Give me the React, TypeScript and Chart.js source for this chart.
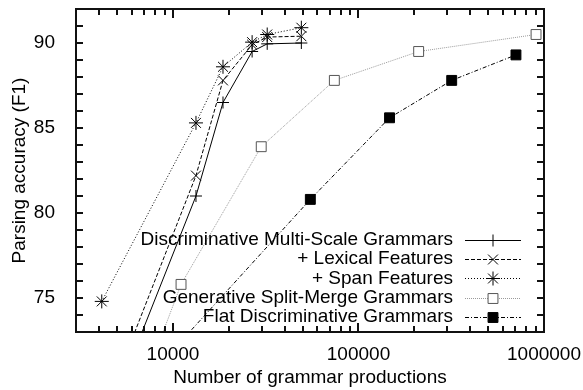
import React, { useEffect, useRef } from 'react';
import { Chart, registerables } from 'chart.js';

Chart.register(...registerables);

// ---- data ----
const seriesNames = [
  'Discriminative Multi-Scale Grammars',
  '+ Lexical Features',
  '+ Span Features',
  'Generative Split-Merge Grammars',
  'Flat Discriminative Grammars',
];
const multiScaleX = [5300, 13300, 18600, 26700, 32200, 49200];
const multiScaleY = [70, 81.0, 86.5, 89.5, 89.95, 90.0];
const lexicalX = [4860, 13300, 18600, 26700, 32200, 49200];
const lexicalY = [70, 82.2, 87.8, 89.9, 90.35, 90.4];
const spanX = [4130, 13300, 18600, 26700, 32200, 49200];
const spanY = [74.8, 85.3, 88.6, 90.05, 90.5, 90.9];
const generativeX = [6960, 11050, 29900, 74100, 211000, 906000];
const generativeY = [70, 75.8, 83.9, 87.8, 89.5, 90.5];
const flatX = [6900, 55000, 147000, 318000, 706000];
const flatY = [70, 80.8, 85.6, 87.8, 89.3];
const xTickLabels = [10000, 100000, 1000000];
const yTickLabels = [75, 80, 85, 90];

const FONT = "'Liberation Sans', Arial, Helvetica, sans-serif";
const FONT_SIZE = 19;

const styles = [
  { color: '#000000', dash: [] as number[], point: 'cross', radius: 6, fill: 'transparent', pcolor: '#000000' },
  { color: '#000000', dash: [4, 2], point: 'crossRot', radius: 7, fill: 'transparent', pcolor: '#000000' },
  { color: '#000000', dash: [1, 2], point: 'star', radius: 7, fill: 'transparent', pcolor: '#000000' },
  { color: '#9a9a9a', dash: [1, 1], point: 'rect', radius: 7, fill: '#ffffff', pcolor: '#555555' },
  { color: '#000000', dash: [4, 2, 1, 2], point: 'rect', radius: 7, fill: '#000000', pcolor: '#000000' },
];

function zip(xs: number[], ys: number[]) {
  return xs.map((x, i) => ({ x, y: ys[i] }));
}

function drawMarker(ctx: CanvasRenderingContext2D, kind: string, x: number, y: number, r: number, fill: string, stroke: string) {
  ctx.save();
  ctx.setLineDash([]);
  ctx.lineWidth = 1;
  ctx.strokeStyle = stroke;
  ctx.fillStyle = fill;
  const d = r * Math.SQRT1_2;
  ctx.beginPath();
  if (kind === 'cross' || kind === 'star') {
    ctx.moveTo(x - r, y); ctx.lineTo(x + r, y);
    ctx.moveTo(x, y - r); ctx.lineTo(x, y + r);
  }
  if (kind === 'crossRot' || kind === 'star') {
    ctx.moveTo(x - d, y - d); ctx.lineTo(x + d, y + d);
    ctx.moveTo(x - d, y + d); ctx.lineTo(x + d, y - d);
  }
  if (kind === 'rect') {
    ctx.rect(x - d, y - d, 2 * d, 2 * d);
    ctx.fill();
  }
  ctx.stroke();
  ctx.restore();
}

function isIntSignificand(v: number) {
  const e = Math.floor(Math.log10(v) + 1e-9);
  const s = v / Math.pow(10, e);
  return Math.abs(s - Math.round(s)) < 1e-6;
}

const framePlugin = {
  id: 'gnuFrame',
  afterDraw(chart: any) {
    const ctx = chart.ctx;
    const a = chart.chartArea;
    const sx = chart.scales.x;
    const sy = chart.scales.y;
    ctx.save();
    ctx.fillStyle = '#111111';
    const W = 2;
    // frame
    ctx.fillRect(a.left - 1, a.top - 1, a.right - a.left + W, W);
    ctx.fillRect(a.left - 1, a.bottom - 1, a.right - a.left + W, W);
    ctx.fillRect(a.left - 1, a.top - 1, W, a.bottom - a.top + W);
    ctx.fillRect(a.right - 1, a.top - 1, W, a.bottom - a.top + W);
    // inward tick marks
    for (let i = 0; i < sx.ticks.length; i++) {
      const v = sx.ticks[i].value;
      if (!isIntSignificand(v)) continue;
      const px = Math.round(sx.getPixelForValue(v));
      if (px <= a.left + 2 || px >= a.right - 2) continue;
      const lg = Math.log10(v);
      const len = Math.abs(lg - Math.round(lg)) < 1e-9 ? 9 : 6;
      ctx.fillRect(px - 1, a.bottom - len, W, len);
      ctx.fillRect(px - 1, a.top, W, len);
    }
    for (let i = 0; i < sy.ticks.length; i++) {
      const py = Math.round(sy.getPixelForValue(sy.ticks[i].value));
      if (py <= a.top + 2 || py >= a.bottom - 2) continue;
      ctx.fillRect(a.left, py - 1, 7, W);
      ctx.fillRect(a.right - 7, py - 1, 7, W);
    }
    ctx.restore();

    // key
    ctx.save();
    ctx.font = `${FONT_SIZE}px ${FONT}`;
    ctx.textAlign = 'right';
    ctx.textBaseline = 'middle';
    ctx.lineWidth = 1;
    seriesNames.forEach((name, i) => {
      const s = styles[i];
      const y = 240 + i * 19.2;
      const ly = Math.round(y) + 0.5;
      ctx.fillStyle = '#000';
      ctx.fillText(name, 453, y);
      ctx.beginPath();
      ctx.strokeStyle = s.color;
      ctx.setLineDash(s.dash);
      ctx.moveTo(465, ly);
      ctx.lineTo(521, ly);
      ctx.stroke();
      drawMarker(ctx, s.point, 493, ly, s.radius, s.fill, s.pcolor);
    });
    ctx.restore();
  },
};

export default function App() {
  const ref = useRef<HTMLCanvasElement>(null);
  useEffect(() => {
    document.body.style.margin = '0';
    document.body.style.overflow = 'hidden';
    Chart.defaults.font.family = FONT;
    Chart.defaults.font.size = FONT_SIZE;
    Chart.defaults.color = '#000';
    const xs = [multiScaleX, lexicalX, spanX, generativeX, flatX];
    const ys = [multiScaleY, lexicalY, spanY, generativeY, flatY];
    const datasets = seriesNames.map((name, i) => {
      const s = styles[i];
      return {
        label: name,
        data: zip(xs[i], ys[i]),
        borderColor: s.color,
        borderWidth: 1,
        borderDash: s.dash,
        pointStyle: s.point,
        pointRadius: s.radius,
        pointBorderColor: s.pcolor,
        pointBackgroundColor: s.fill,
        pointBorderWidth: 1,
        fill: false,
        tension: 0,
      };
    });
    const chart = new Chart(ref.current!, {
      type: 'scatter',
      data: { datasets: datasets as any },
      plugins: [framePlugin],
      options: {
        animation: false,
        responsive: false,
        showLine: true,
        layout: { padding: { left: 0, right: 39, top: 9, bottom: 0 } },
        plugins: { legend: { display: false }, tooltip: { enabled: false } },
        scales: {
          x: {
            type: 'logarithmic',
            min: 3000,
            max: 1000000,
            grid: { display: false },
            border: { display: false },
            ticks: {
              autoSkip: false,
              maxRotation: 0,
              padding: 3,
              callback: (v: any) => (xTickLabels.some((t) => Math.abs(t - v) < 1e-6) ? String(v) : ''),
            },
            title: { display: true, text: 'Number of grammar productions', padding: { top: 0, bottom: 1 } },
            afterFit: (s: any) => { s.height = 58; s.paddingLeft = 0; s.paddingRight = 0; },
          },
          y: {
            min: 73,
            max: 92,
            grid: { display: false },
            border: { display: false },
            ticks: {
              stepSize: 1,
              autoSkip: false,
              padding: 13,
              callback: (v: any) => (yTickLabels.includes(Number(v)) ? String(v) : ''),
            },
            title: { display: true, text: 'Parsing accuracy (F1)', padding: { top: 8, bottom: 0 } },
            afterFit: (s: any) => { s.width = 76; s.paddingTop = 0; s.paddingBottom = 0; },
          },
        },
      },
    });
    return () => chart.destroy();
  }, []);
  return <canvas ref={ref} width={583} height={390} style={{ display: 'block', width: 583, height: 390 }} />;
}
